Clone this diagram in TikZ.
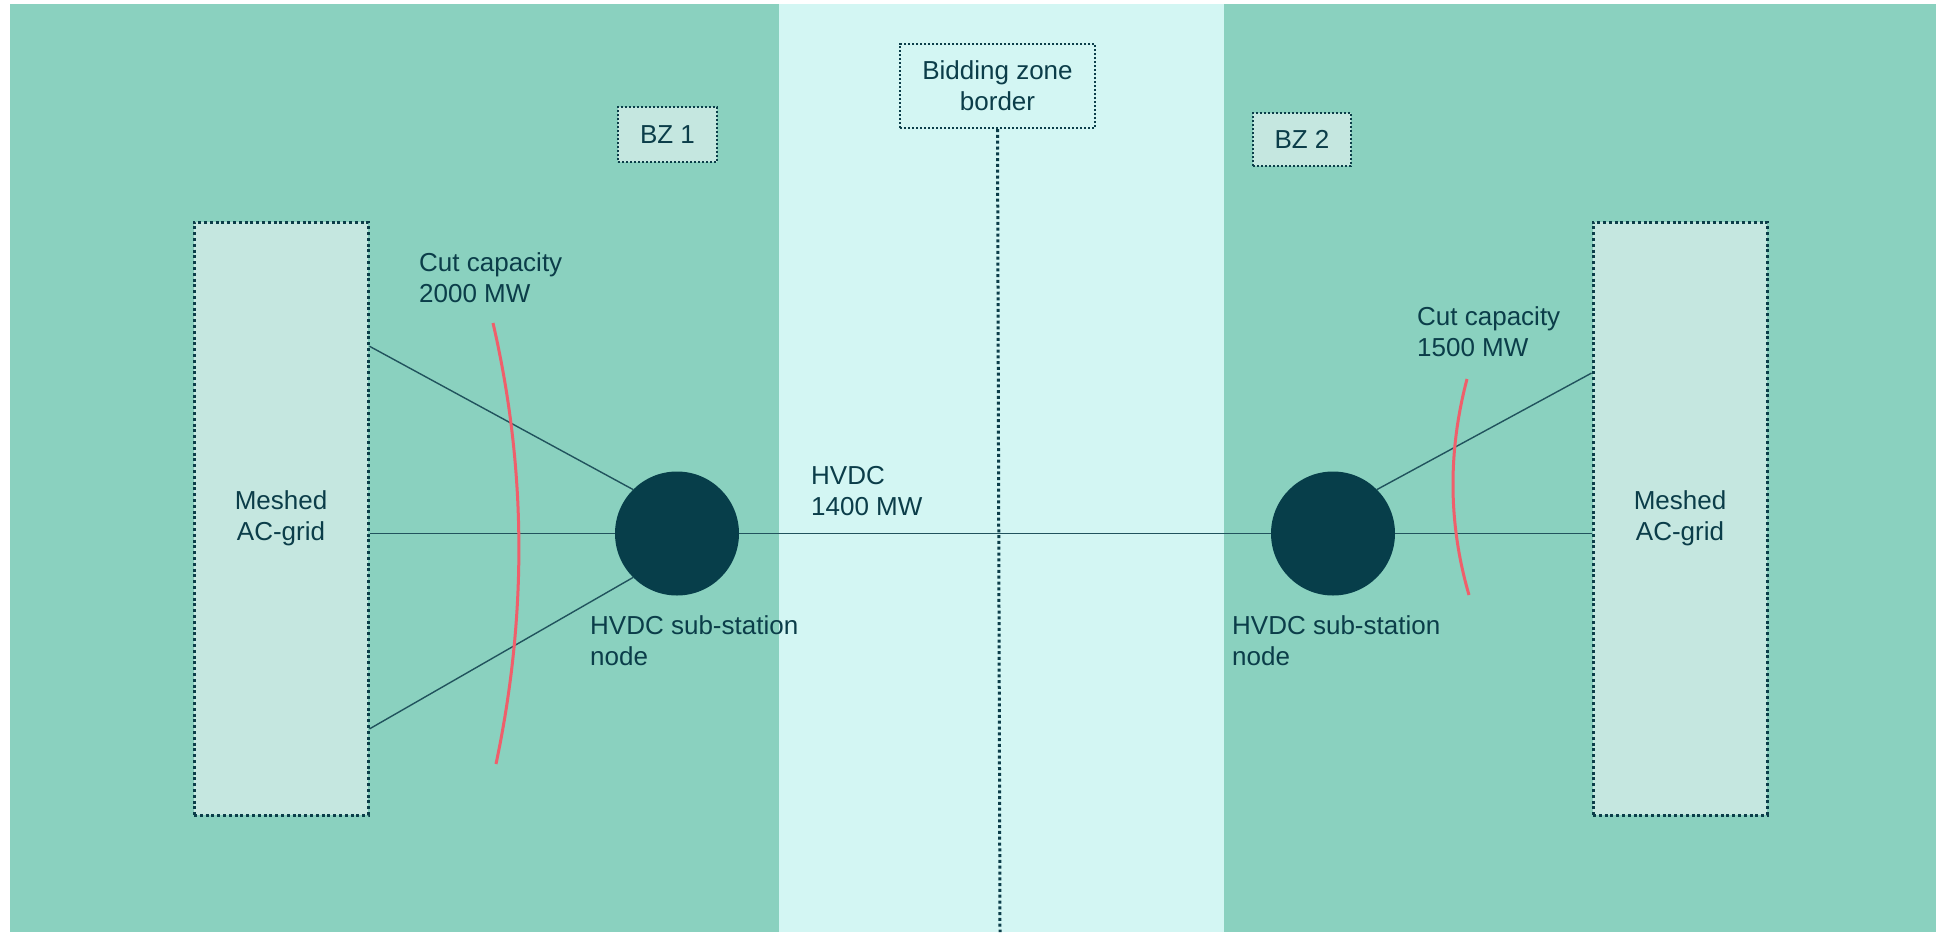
\documentclass[tikz,border=0pt]{standalone}
\usepackage{fontspec}
\setmainfont{Liberation Sans}
\usetikzlibrary{calc}
\definecolor{zoneGreen}{HTML}{8AD1BF}
\definecolor{borderBand}{HTML}{D3F6F3}
\definecolor{boxFill}{HTML}{C5E7E0}
\definecolor{inkTeal}{HTML}{0B3D49}
\definecolor{wireTeal}{HTML}{21535D}
\definecolor{nodeDark}{HTML}{073E4A}
\definecolor{cutRed}{HTML}{EF5F6B}

\begin{document}
\begin{tikzpicture}[x=1pt,y=-1pt,
  every node/.style={font=\fontsize{26}{31}\selectfont, text=inkTeal},
  dotframe/.style={draw=inkTeal, line width=3pt, dash pattern=on 3pt off 2.8pt},
  finedots/.style={draw=inkTeal, line width=2.2pt, dash pattern=on 2.1pt off 1.9pt},
  gridbox/.style={dotframe, fill=boxFill, align=center, minimum width=174pt,
    minimum height=593pt, inner sep=0pt},
  tagbox/.style={finedots, fill=boxFill, align=center, inner sep=0pt},
  station/.style={circle, fill=nodeDark, minimum size=124pt, inner sep=0pt},
  note/.style={align=left, anchor=west, inner sep=0pt},
  link/.style={draw=wireTeal, line width=1.4pt},
  cut/.style={draw=cutRed, line width=3pt},
]
% canvas and zones
\useasboundingbox (0,0) rectangle (1936,932);
\fill[white] (0,0) rectangle (1936,932);
\fill[zoneGreen] (10,4) rectangle (1936,932);
\fill[borderBand] (779,4) rectangle (1224,932);

% zone labels
\node[tagbox, fill=borderBand, minimum width=195pt, minimum height=84pt] (zoneBorder) at (997.5,86) {Bidding zone\\border};
\node[tagbox, minimum width=99pt, minimum height=55pt] (bz1) at (667.5,134.5) {BZ 1};
\node[tagbox, minimum width=98pt, minimum height=53pt] (bz2) at (1302,139.5) {BZ 2};
\coordinate (zoneEnd) at (1000,932);
\draw[dotframe] (zoneBorder.south) -- (zoneEnd);

% AC grids and converter stations
\node[gridbox] (acL) at (281,518.5) {Meshed\\AC-grid};
\node[gridbox] (acR) at (1680,518.5) {Meshed\\AC-grid};
\node[station] (hvL) at (677,533.5) {};
\node[station] (hvR) at (1333,533.5) {};

% connections
\draw[link] ($(acL.north east)!0.211!(acL.south east)$) -- (hvL.135);
\draw[link] (hvL.west -| acL.east) -- (hvL.west);
\draw[link] ($(acL.north east)!0.853!(acL.south east)$) -- (hvL.225);
\draw[link] (hvL.east) -- (hvR.west);
\draw[link] (hvR.45) -- ($(acR.north west)!0.256!(acR.south west)$);
\draw[link] (hvR.east) -- (hvR.east -| acR.west);

% cuts
\draw[cut] (493,323) .. controls (527,470) and (527,617) .. (496,764);
\draw[cut] (1467,379) .. controls (1448,451) and (1448,523) .. (1469,595);

% labels
\node[note] (cutL) at (419,277.5) {Cut capacity\\2000 MW};
\node[note] (cutR) at (1417,331.5) {Cut capacity\\1500 MW};
\node[note] (hvdc) at (811,491.5) {HVDC\\1400 MW};
\node[note] (subL) at (590,640.5) {HVDC sub-station\\node};
\node[note] (subR) at (1232,640.5) {HVDC sub-station\\node};
\end{tikzpicture}
\end{document}
